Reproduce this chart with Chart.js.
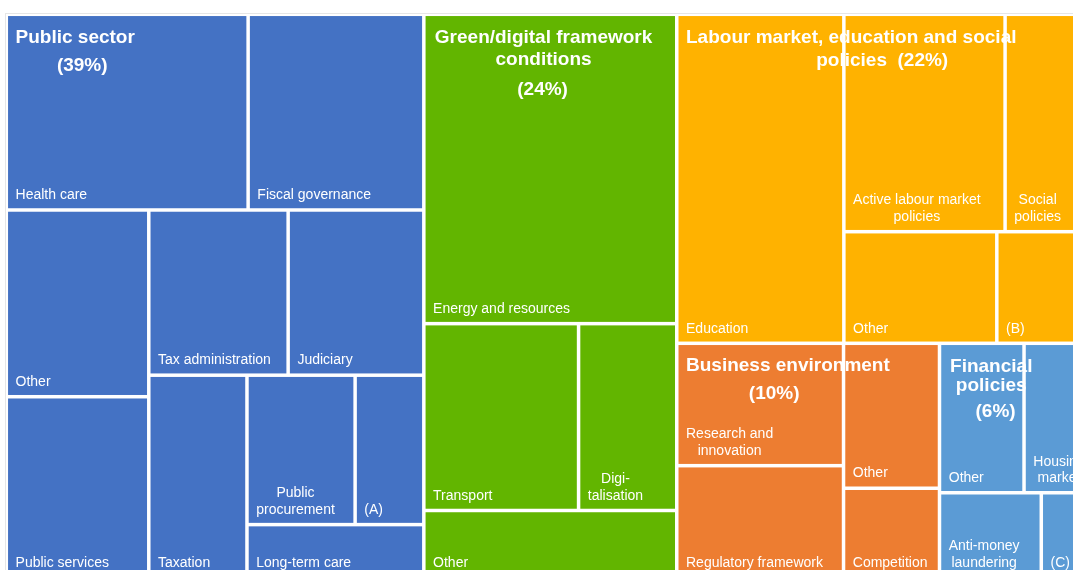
<!DOCTYPE html>
<html>
<head>
<meta charset="utf-8">
<script src="https://cdn.jsdelivr.net/npm/chart.js@4.4.1/dist/chart.umd.min.js"></script>
<style>
  html, body { margin: 0; padding: 0; background: #fff; overflow: hidden; }
  #wrap { position: absolute; left: 0; top: 0; }
</style>
</head>
<body>
<div id="wrap"><canvas id="treemap" width="1100" height="600"></canvas></div>
<script>
// top level policy areas
const groupNames = ['Public sector', 'Green/digital framework conditions', 'Labour market, education and social policies', 'Business environment', 'Financial policies'];
const groupShares = [39, 24, 22, 10, 6];
const groupColors = ['#4472C4', '#62B500', '#FFB200', '#ED7D31', '#5B9BD5'];

// sub-areas, share of all recommendations (%)
const publicLabels = ['Health care', 'Fiscal governance', 'Other', 'Public services', 'Tax administration', 'Judiciary', 'Taxation', 'Public\nprocurement', '(A)', 'Long-term care'];
const publicValues = [7.79, 5.66, 4.38, 4.24, 3.79, 3.69, 3.27, 2.66, 1.69, 1.54];

const greenLabels = ['Energy and resources', 'Transport', 'Digi-\ntalisation', 'Other'];
const greenValues = [12.88, 4.76, 3.02, 2.79];

const labourLabels = ['Education', 'Active labour market\npolicies', 'Social\npolicies', 'Other', '(B)'];
const labourValues = [9.05, 5.77, 2.86, 2.81, 1.62];

const businessLabels = ['Research and\ninnovation', 'Regulatory framework', 'Other', 'Competition'];
const businessValues = [3.36, 3.07, 2.29, 1.41];

const financialLabels = ['Other', 'Housing\nmarket', 'Anti-money\nlaundering', '(C)'];
const financialValues = [2.08, 1.50, 1.42, 0.61];

const itemLabels = [publicLabels, greenLabels, labourLabels, businessLabels, financialLabels];
const itemValues = [publicValues, greenValues, labourValues, businessValues, financialValues];

// how many cells go in each strip; a strip runs along the shorter side of what is left
const groupStrips = [1, 1, 1, 1, 1];
const itemStrips = [[2, 2, 2, 1, 2, 1], [1, 2, 1], [1, 2, 1, 1], [2, 1, 1], [2, 1, 1]];

// where the group titles sit inside the first cell of each group
const titleLines = [
  [{ text: 'Public sector', dx: 7.5, dy: 26.8, align: 'left' },
   { text: '(' + groupShares[0] + '%)', dx: 74.2, dy: 55, align: 'center' }],
  [{ text: 'Green/digital framework', dx: 118, dy: 27.3, align: 'center' },
   { text: 'conditions', dx: 118, dy: 48.5, align: 'center' },
   { text: '(' + groupShares[1] + '%)', dx: 117, dy: 78.5, align: 'center' }],
  [{ text: 'Labour market, education and social', dx: 7.5, dy: 26.8, align: 'left' },
   { text: 'policies  (' + groupShares[2] + '%)', dx: 203.7, dy: 50, align: 'center' }],
  [{ text: 'Business environment', dx: 7.5, dy: 25.7, align: 'left' },
   { text: '(' + groupShares[3] + '%)', dx: 95.7, dy: 54, align: 'center' }],
  [{ text: 'Financial', dx: 50, dy: 27, align: 'center' },
   { text: 'policies', dx: 50, dy: 46, align: 'center' },
   { text: '(' + groupShares[4] + '%)', dx: 54.3, dy: 72, align: 'center' }]
];

const GAP = 1.75;
const FONT = '"Liberation Sans", Arial, sans-serif';

const sum = arr => arr.reduce((a, b) => a + b, 0);

function layoutStrips(rect, values, strips, xs, ys) {
  let total = sum(values);
  const r = { ...rect };
  const out = [];
  let i = 0;
  strips.forEach(n => {
    const part = values.slice(i, i + n);
    const s = sum(part);
    const pw = Math.abs(xs.getPixelForValue(r.x1) - xs.getPixelForValue(r.x0));
    const ph = Math.abs(ys.getPixelForValue(r.y1) - ys.getPixelForValue(r.y0));
    if (pw >= ph) {
      // column on the left
      const w = (r.x1 - r.x0) * s / total;
      let y = r.y0;
      part.forEach(v => {
        const h = (r.y1 - r.y0) * v / s;
        out.push({ x0: r.x0, x1: r.x0 + w, y0: y, y1: y + h });
        y += h;
      });
      r.x0 += w;
    } else {
      // row along the top
      const h = (r.y1 - r.y0) * s / total;
      let x = r.x0;
      part.forEach(v => {
        const w = (r.x1 - r.x0) * v / s;
        out.push({ x0: x, x1: x + w, y0: r.y0, y1: r.y0 + h });
        x += w;
      });
      r.y0 += h;
    }
    total -= s;
    i += n;
  });
  return out;
}

function toPixels(r, xs, ys) {
  return {
    left: xs.getPixelForValue(r.x0) + GAP,
    right: xs.getPixelForValue(r.x1) - GAP,
    top: ys.getPixelForValue(r.y0) + GAP,
    bottom: ys.getPixelForValue(r.y1) - GAP
  };
}

const treemapPlugin = {
  id: 'treemapCells',
  afterDraw(chart) {
    const ctx = chart.ctx;
    const xs = chart.scales.x;
    const ys = chart.scales.y;
    const ca = chart.chartArea;

    ctx.save();
    // faint frame round the plot
    ctx.strokeStyle = '#e6e6e6';
    ctx.lineWidth = 1;
    ctx.strokeRect(Math.round(ca.left - 1.8) + 0.5, Math.round(ca.top - 1.8) + 0.5, 2000, 2000);

    const groupTotals = itemValues.map(sum);
    const whole = { x0: xs.min, x1: xs.max, y0: ys.min, y1: ys.max };
    const groupRects = layoutStrips(whole, groupTotals, groupStrips, xs, ys);

    const groupFirstCell = [];
    groupRects.forEach((gr, g) => {
      const cells = layoutStrips(gr, itemValues[g], itemStrips[g], xs, ys);
      const gp = toPixels(gr, xs, ys);
      groupFirstCell.push(gp);
      cells.forEach((c, k) => {
        const p = toPixels(c, xs, ys);
        ctx.fillStyle = groupColors[g];
        ctx.fillRect(p.left, p.top, p.right - p.left, p.bottom - p.top);

        // cell label, bottom left, wrapped lines centred in their block
        ctx.fillStyle = '#ffffff';
        ctx.font = '14px ' + FONT;
        ctx.textBaseline = 'alphabetic';
        ctx.textAlign = 'center';
        const lines = itemLabels[g][k].split('\n');
        const blockW = Math.max(...lines.map(l => ctx.measureText(l).width));
        const cx = p.left + 7.5 + blockW / 2;
        lines.forEach((l, j) => {
          ctx.fillText(l, cx, p.bottom - 9 - (lines.length - 1 - j) * 16.5);
        });
      });
    });

    // group titles drawn over every cell
    ctx.fillStyle = '#ffffff';
    ctx.font = 'bold 19px ' + FONT;
    titleLines.forEach((lines, g) => {
      const gp = groupFirstCell[g];
      lines.forEach(l => {
        ctx.textAlign = l.align;
        ctx.fillText(l.text, gp.left + l.dx, gp.top + l.dy);
      });
    });
    ctx.restore();
  }
};

new Chart(document.getElementById('treemap'), {
  type: 'scatter',
  data: { datasets: [] },
  options: {
    responsive: false,
    animation: false,
    layout: { padding: { left: 6.3, top: 14.3, right: 15, bottom: 22.5 } },
    plugins: { legend: { display: false }, tooltip: { enabled: false } },
    scales: {
      x: { type: 'linear', min: 0, max: 100, display: false },
      y: { type: 'linear', min: 0, max: 100, reverse: true, display: false }
    }
  },
  plugins: [treemapPlugin]
});
</script>
</body>
</html>
